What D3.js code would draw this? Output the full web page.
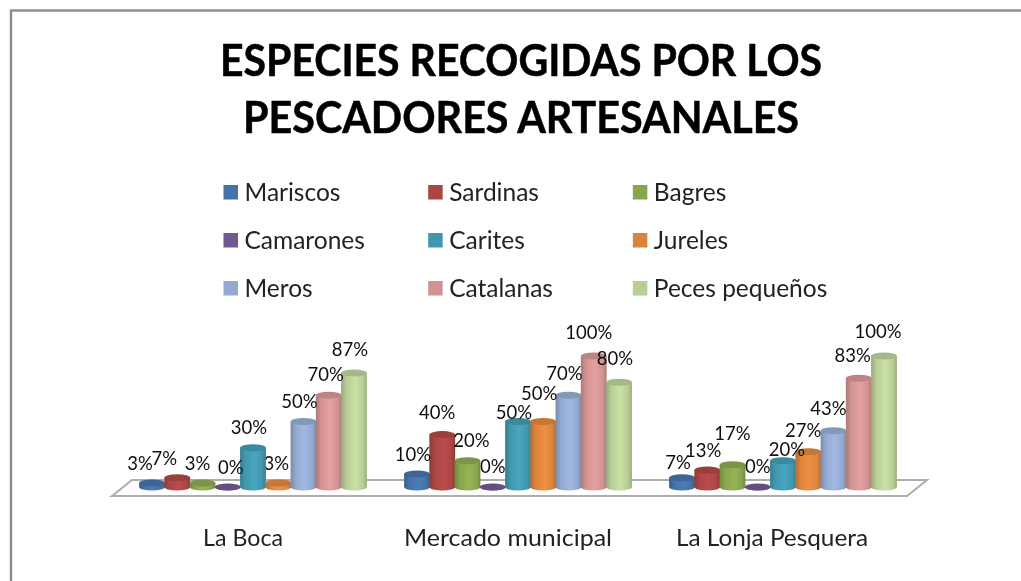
<!DOCTYPE html>
<html><head><meta charset="utf-8">
<script src="https://cdnjs.cloudflare.com/ajax/libs/d3/7.8.5/d3.min.js"></script>
<style>html,body{margin:0;padding:0;background:#fff;overflow:hidden}text{font-family:Lato,"Open Sans",sans-serif}</style>
</head><body><svg id="c" width="1021" height="581"></svg>
<script>
const categories=["La Boca","Mercado municipal","La Lonja Pesquera"];
const seriesNames=["Mariscos","Sardinas","Bagres","Camarones","Carites","Jureles","Meros","Catalanas","Peces pequeños"];
const seriesColors=["#4572a7","#aa4643","#89a54e","#71588f","#4198af","#db843d","#93a9cf","#d19392","#b9cd96"];
const laBoca=[3,7,3,0,30,3,50,70,87];
const mercado=[10,40,20,0,50,50,70,100,80];
const lonja=[7,13,17,0,20,27,43,83,100];
const tableValues=[laBoca,mercado,lonja];
const titleLines=["ESPECIES RECOGIDAS POR LOS","PESCADORES ARTESANALES"];
// hand placement of the data labels around their bars
const labelDx=[[-12,-13,-5,3,-4,-2,-4,-3,-4],[-4,-5,4,0,-4,-4,-4,-5,-4],[-4,-4,0,0,4,-5,-5,-6,-6]];
const labelDy=[[-13,-13,-13,-13,-14,-13,-14,-14,-17],[-13,-16,-14,-14,-3,-22,-15,-17,-17],[-9,-13,-25,-14,-5,-15,-16,-16,-18]];
const labelsBehind=[[5],[3],[]];

const svg=d3.select("#c");
const defs=svg.append("defs");
seriesColors.forEach((c,i)=>{
  const g=defs.append("linearGradient").attr("id","g"+i);
  const base=d3.color(c);
  [[0,base.darker(.55)],[.2,base],[.55,base.brighter(.25)],[.85,base],[1,base.darker(.5)]].forEach(([o,k])=>
    g.append("stop").attr("offset",o).attr("stop-color",k));
});
const blur=defs.append("filter").attr("id","soft").attr("x","-10%").attr("y","-10%").attr("width","120%").attr("height","120%");
blur.append("feGaussianBlur").attr("stdDeviation",0.5);

svg.append("rect").attr("x",11).attr("y",10.5).attr("width",1030).attr("height",600)
  .attr("fill","#fff").attr("stroke","#8c8c8c").attr("stroke-width",2.4);

const title=svg.append("g").attr("filter","url(#soft)");
title.selectAll("text").data(titleLines).join("text")
  .attr("x",521).attr("y",(d,i)=>76+i*57).attr("text-anchor","middle")
  .attr("font-size",43).attr("font-weight",700).attr("fill","#000")
  .attr("stroke","#000").attr("stroke-width",0.5)
  .attr("textLength",(d,i)=>i?556:602).attr("lengthAdjust","spacingAndGlyphs").text(d=>d);

const legendX=d3.scaleBand().domain([0,1,2]).range([222,836]);
const legendY=d3.scalePoint().domain([0,1,2]).range([192,288]);
const leg=svg.append("g").attr("filter","url(#soft)").selectAll("g").data(seriesNames).join("g")
  .attr("transform",(d,i)=>`translate(${legendX(i%3)},${legendY(Math.floor(i/3))})`);
leg.append("rect").attr("x",1.5).attr("y",-7).attr("width",14.5).attr("height",14.5).attr("fill",(d,i)=>seriesColors[i]);
leg.append("text").attr("x",22.5).attr("y",8.5).attr("font-size",24.5).attr("fill","#222").text(d=>d);

const x0=d3.scaleBand().domain(categories).range([110,905]);
const x1=d3.scaleBand().domain(d3.range(9)).range([0,227.25]);
const y=d3.scaleLinear().domain([0,100]).range([487,356]);
const barX=(ci,si)=>x0(categories[ci])+42+x1(si);

svg.append("path").attr("d",d3.line()([[112,496],[132,480],[927,480],[907,496]])+"Z")
  .attr("fill","#fff").attr("stroke","#adadad").attr("stroke-width",2);

function drawLabel(sel,ci,si){
  const v=tableValues[ci][si];
  sel.append("text").attr("x",barX(ci,si)+labelDx[ci][si]).attr("y",y(v)+labelDy[ci][si])
    .attr("text-anchor","middle").attr("font-size",18.5).attr("fill","#111").text(v+"%");
}
const under=svg.append("g").attr("filter","url(#soft)");
labelsBehind.forEach((list,ci)=>list.forEach(si=>drawLabel(under,ci,si)));

const plot=svg.append("g").attr("filter","url(#soft)");
categories.forEach((cat,ci)=>{
  const g=plot.append("g");
  tableValues[ci].forEach((v,si)=>{
    const cx=barX(ci,si);
    const rx=12.9, ry=3.5, top=y(v), base=y(0);
    const side=`M${cx-rx},${top}L${cx-rx},${base}A${rx},${ry} 0 0 0 ${cx+rx},${base}L${cx+rx},${top}Z`;
    g.append("path").attr("d",side).attr("fill",`url(#g${si})`);
    g.append("ellipse").attr("cx",cx).attr("cy",top).attr("rx",rx).attr("ry",ry)
      .attr("fill",d3.color(seriesColors[si]).darker(.3));
  });
});
const labels=svg.append("g").attr("filter","url(#soft)");
categories.forEach((cat,ci)=>tableValues[ci].forEach((v,si)=>{
  if(!labelsBehind[ci].includes(si)) drawLabel(labels,ci,si);
}));
const cats=svg.append("g").attr("filter","url(#soft)");
cats.selectAll("text").data(categories).join("text")
  .attr("x",(d,i)=>[243,508,772][i]).attr("y",546).attr("text-anchor","middle")
  .attr("font-size",24).attr("fill","#222")
  .attr("textLength",(d,i)=>[80,208,192][i]).attr("lengthAdjust","spacingAndGlyphs").text(d=>d);
</script></body></html>
